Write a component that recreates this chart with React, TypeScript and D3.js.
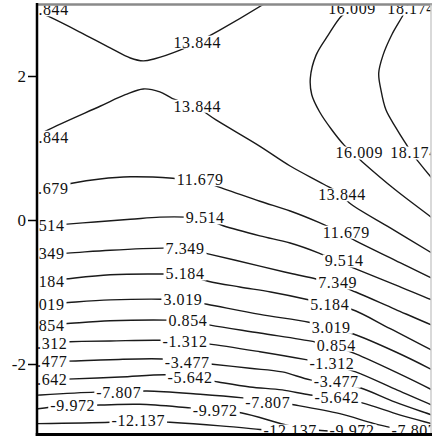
import React, { useRef, useEffect } from "react";
import * as d3 from "d3";

// contour levels (step 2.165)
const levels = [-12.137, -9.972, -7.807, -5.642, -3.477, -1.312, 0.854, 3.019, 5.184, 7.349, 9.514, 11.679, 13.844, 16.009, 18.174];
const yTicks = [-2, 0, 2];

// contour paths in data units [x, y]
const c13844a = [[-3.08, 2.94], [-2.81, 2.82], [-2.39, 2.61], [-1.97, 2.39], [-1.69, 2.25], [-1.51, 2.21], [-1.35, 2.24], [-1.0, 2.36], [-0.76, 2.47], [-0.46, 2.63], [0.15, 2.99], [0.32, 3.1]];
const c13844b = [[-3.08, 1.125], [-2.71, 1.31], [-2.11, 1.58], [-1.76, 1.74], [-1.51, 1.82], [-1.28, 1.78], [-1.11, 1.69], [-0.76, 1.56], [-0.5, 1.39], [0.1, 1.03], [0.53, 0.75], [0.99, 0.5], [1.25, 0.35], [1.35, 0.24], [1.92, -0.11], [2.5, -0.46], [2.61, -0.53]];
const c16009 = [[1.5, 3.1], [1.39, 2.94], [1.24, 2.83], [1.06, 2.57], [0.89, 2.29], [0.81, 1.97], [0.83, 1.74], [0.94, 1.5], [1.11, 1.25], [1.28, 1.04], [1.4, 0.93], [1.53, 0.81], [1.99, 0.42], [2.5, 0.03], [2.61, -0.06]];
const c18174 = [[2.22, 3.1], [2.15, 2.96], [2.1, 2.85], [1.94, 2.57], [1.82, 2.29], [1.76, 2.04], [1.79, 1.81], [1.86, 1.53], [2.0, 1.28], [2.13, 1.07], [2.22, 0.93], [2.31, 0.81], [2.5, 0.58], [2.61, 0.46]];
const c11679 = [[-3.08, 0.375], [-2.5, 0.51], [-2.11, 0.57], [-1.69, 0.6], [-1.1, 0.58], [-0.72, 0.54], [-0.38, 0.43], [0.11, 0.26], [0.53, 0.125], [0.92, -0.03], [1.18, -0.15], [1.44, -0.29], [1.99, -0.56], [2.5, -0.81], [2.61, -0.86]];
const c9514 = [[-3.08, -0.1], [-2.35, -0.04], [-1.69, 0.01], [-1.28, 0.04], [-0.92, 0.04], [-0.65, 0.01], [-0.4, -0.08], [0.11, -0.22], [0.53, -0.32], [0.93, -0.46], [1.18, -0.57], [1.44, -0.68], [1.99, -0.9], [2.5, -1.11], [2.61, -1.15]];
const c7349 = [[-3.08, -0.49], [-2.56, -0.46], [-1.97, -0.42], [-1.24, -0.39], [-0.93, -0.4], [-0.61, -0.47], [0.11, -0.64], [0.53, -0.74], [0.89, -0.82], [1.19, -0.9], [1.44, -1.0], [1.99, -1.24], [2.5, -1.46], [2.61, -1.5]];
const c5184 = [[-3.08, -0.875], [-2.6, -0.82], [-1.97, -0.76], [-1.24, -0.75], [-0.93, -0.76], [-0.61, -0.85], [-0.17, -0.93], [0.26, -1.0], [0.75, -1.1], [1.08, -1.18], [1.38, -1.24], [1.92, -1.51], [2.5, -1.81], [2.61, -1.86]];
const c3019 = [[-3.08, -1.18], [-2.625, -1.15], [-1.97, -1.11], [-1.25, -1.1], [-0.96, -1.11], [-0.625, -1.17], [0.11, -1.31], [0.79, -1.42], [1.1, -1.5], [1.4, -1.58], [1.99, -1.83], [2.5, -2.08], [2.61, -2.14]];
const c0854 = [[-3.08, -1.47], [-2.6, -1.44], [-1.97, -1.4], [-1.18, -1.39], [-0.89, -1.4], [-0.58, -1.46], [0.11, -1.57], [0.86, -1.69], [1.17, -1.76], [1.44, -1.86], [1.99, -2.11], [2.5, -2.36], [2.61, -2.42]];
const cm1312 = [[-3.08, -1.71], [-2.53, -1.69], [-1.97, -1.68], [-1.28, -1.67], [-0.93, -1.69], [-0.61, -1.72], [0.11, -1.83], [0.75, -1.94], [1.11, -2.01], [1.44, -2.11], [1.99, -2.35], [2.5, -2.57], [2.61, -2.61]];
const cm3477 = [[-3.08, -1.97], [-2.56, -1.96], [-1.97, -1.94], [-1.25, -1.93], [-0.9, -1.97], [-0.58, -2.0], [-0.03, -2.06], [0.42, -2.11], [0.81, -2.22], [1.17, -2.26], [1.5, -2.33], [1.99, -2.53], [2.5, -2.71], [2.61, -2.75]];
const cm5642 = [[-3.08, -2.22], [-2.57, -2.21], [-1.83, -2.18], [-1.18, -2.15], [-0.86, -2.18], [-0.47, -2.25], [-0.03, -2.32], [0.42, -2.36], [0.81, -2.43], [1.18, -2.46], [1.53, -2.54], [2.06, -2.71], [2.5, -2.83], [2.61, -2.86]];
const cm7807 = [[-3.08, -2.44], [-2.94, -2.43], [-2.18, -2.39], [-1.85, -2.39], [-1.46, -2.375], [-0.72, -2.42], [-0.125, -2.47], [0.22, -2.51], [0.6, -2.57], [1.22, -2.69], [1.67, -2.82], [1.92, -2.88], [2.25, -2.93], [2.61, -3.02]];
const cm9972 = [[-3.08, -2.64], [-2.81, -2.6], [-2.49, -2.58], [-2.11, -2.57], [-1.56, -2.56], [-0.86, -2.61], [-0.51, -2.64], [-0.14, -2.68], [0.53, -2.86], [0.92, -2.92], [1.39, -2.95], [1.92, -3.04]];
const cm12137 = [[-3.08, -2.83], [-1.97, -2.81], [-1.58, -2.79], [-1.14, -2.81], [-0.44, -2.86], [0.11, -2.91], [0.53, -2.95], [0.92, -3.06]];

// label anchor points along each contour
const l13844a = [[-2.875, 2.92], [-0.76, 2.47]];
const l13844b = [[-2.875, 1.15], [-0.76, 1.58], [1.25, 0.35]];
const l16009 = [[1.39, 2.93], [1.49, 0.93]];
const l18174 = [[2.21, 2.93], [2.25, 0.93]];
const l11679 = [[-2.875, 0.43], [-0.72, 0.56], [1.31, -0.17]];
const l9514 = [[-2.875, -0.08], [-0.65, 0.03], [1.28, -0.57]];
const l7349 = [[-2.875, -0.46], [-0.93, -0.39], [1.19, -0.875]];
const l5184 = [[-2.875, -0.85], [-0.93, -0.75], [1.08, -1.18]];
const l3019 = [[-2.875, -1.17], [-0.96, -1.1], [1.1, -1.49]];
const l0854 = [[-2.875, -1.46], [-0.89, -1.39], [1.17, -1.74]];
const lm1312 = [[-2.875, -1.72], [-0.93, -1.69], [1.11, -2.0]];
const lm3477 = [[-2.875, -1.97], [-0.9, -1.98], [1.17, -2.24]];
const lm5642 = [[-2.875, -2.21], [-0.86, -2.19], [1.18, -2.47]];
const lm7807 = [[-1.85, -2.39], [0.22, -2.53], [2.25, -2.93]];
const lm9972 = [[-2.49, -2.58], [-0.51, -2.64], [1.39, -2.93]];
const lm12137 = [[-1.58, -2.79], [0.53, -2.93]];

const contours = [
  { level: levels[12], pts: c13844a, labels: l13844a },
  { level: levels[12], pts: c13844b, labels: l13844b },
  { level: levels[13], pts: c16009, labels: l16009 },
  { level: levels[14], pts: c18174, labels: l18174 },
  { level: levels[11], pts: c11679, labels: l11679 },
  { level: levels[10], pts: c9514, labels: l9514 },
  { level: levels[9], pts: c7349, labels: l7349 },
  { level: levels[8], pts: c5184, labels: l5184 },
  { level: levels[7], pts: c3019, labels: l3019 },
  { level: levels[6], pts: c0854, labels: l0854 },
  { level: levels[5], pts: cm1312, labels: lm1312 },
  { level: levels[4], pts: cm3477, labels: lm3477 },
  { level: levels[3], pts: cm5642, labels: lm5642 },
  { level: levels[2], pts: cm7807, labels: lm7807 },
  { level: levels[1], pts: cm9972, labels: lm9972 },
  { level: levels[0], pts: cm12137, labels: lm12137 },
];

const FONT = "'Liberation Serif', 'Times New Roman', serif";

const App = () => {
  const ref = useRef<SVGSVGElement>(null);

  useEffect(() => {
    const svg = d3.select(ref.current);
    svg.selectAll("*").remove();

    const x = d3.scaleLinear().domain([-3, 2.5]).range([36, 432]);
    const y = d3.scaleLinear().domain([-2, 2]).range([364, 76]);

    const left = 37,
      top = 4.5,
      right = 431,
      bottom = y(-2.98);

    svg
      .append("defs")
      .append("clipPath")
      .attr("id", "plot-clip")
      .append("rect")
      .attr("x", left + 1)
      .attr("y", top + 1)
      .attr("width", right - left - 1)
      .attr("height", bottom - top - 2.5);

    const g = svg.append("g").attr("clip-path", "url(#plot-clip)");

    const line = d3
      .line<number[]>()
      .x((d) => x(d[0]))
      .y((d) => y(d[1]))
      .curve(d3.curveCatmullRom.alpha(0.5));

    contours.forEach((c) => {
      g.append("path")
        .attr("d", line(c.pts))
        .attr("fill", "none")
        .attr("stroke", "#1a1a1a")
        .attr("stroke-width", 1.4);
    });

    contours.forEach((c) => {
      c.labels.forEach(([lx, ly]) => {
        const lg = g.append("g");
        const r = lg.append("rect").attr("fill", "white");
        const t = lg
          .append("text")
          .attr("x", x(lx))
          .attr("y", y(ly))
          .attr("dy", "0.34em")
          .attr("text-anchor", "middle")
          .style("font-family", FONT)
          .style("font-size", "16px")
          .style("letter-spacing", "0.6px")
          .attr("fill", "#111")
          .text(c.level.toFixed(3));
        const w = (t.node() as SVGTextElement).getComputedTextLength();
        r.attr("x", x(lx) - w / 2 - 2)
          .attr("y", y(ly) - 6.5)
          .attr("width", w + 4)
          .attr("height", 13);
      });
    });

    // frame
    svg
      .append("line")
      .attr("x1", left)
      .attr("x2", right + 1)
      .attr("y1", top)
      .attr("y2", top)
      .attr("stroke", "#8a8a8a")
      .attr("stroke-width", 2.5);
    svg
      .append("line")
      .attr("x1", right)
      .attr("x2", right)
      .attr("y1", top)
      .attr("y2", bottom)
      .attr("stroke", "#cccccc")
      .attr("stroke-width", 1.5);
    svg
      .append("line")
      .attr("x1", left)
      .attr("x2", left)
      .attr("y1", top - 1.5)
      .attr("y2", bottom + 1.5)
      .attr("stroke", "#000")
      .attr("stroke-width", 2.5);
    svg
      .append("line")
      .attr("x1", left - 1.25)
      .attr("x2", 432)
      .attr("y1", bottom)
      .attr("y2", bottom)
      .attr("stroke", "#000")
      .attr("stroke-width", 3);

    const yAxis = svg
      .append("g")
      .attr("transform", `translate(${left},0)`)
      .call(
        d3
          .axisLeft(y)
          .tickValues(yTicks)
          .tickSize(9)
          .tickPadding(2)
          .tickFormat((d) => String(d))
      );
    yAxis.select(".domain").remove();
    yAxis.selectAll(".tick line").attr("stroke", "#000").attr("stroke-width", 1.5);
    yAxis
      .selectAll(".tick text")
      .style("font-family", FONT)
      .style("font-size", "17px")
      .attr("fill", "#111")
      .attr("dy", "0.34em");
  }, []);

  return (
    <svg
      ref={ref}
      width={432}
      height={438}
      style={{ position: "absolute", left: 0, top: 0, background: "white" }}
    />
  );
};

export default App;
